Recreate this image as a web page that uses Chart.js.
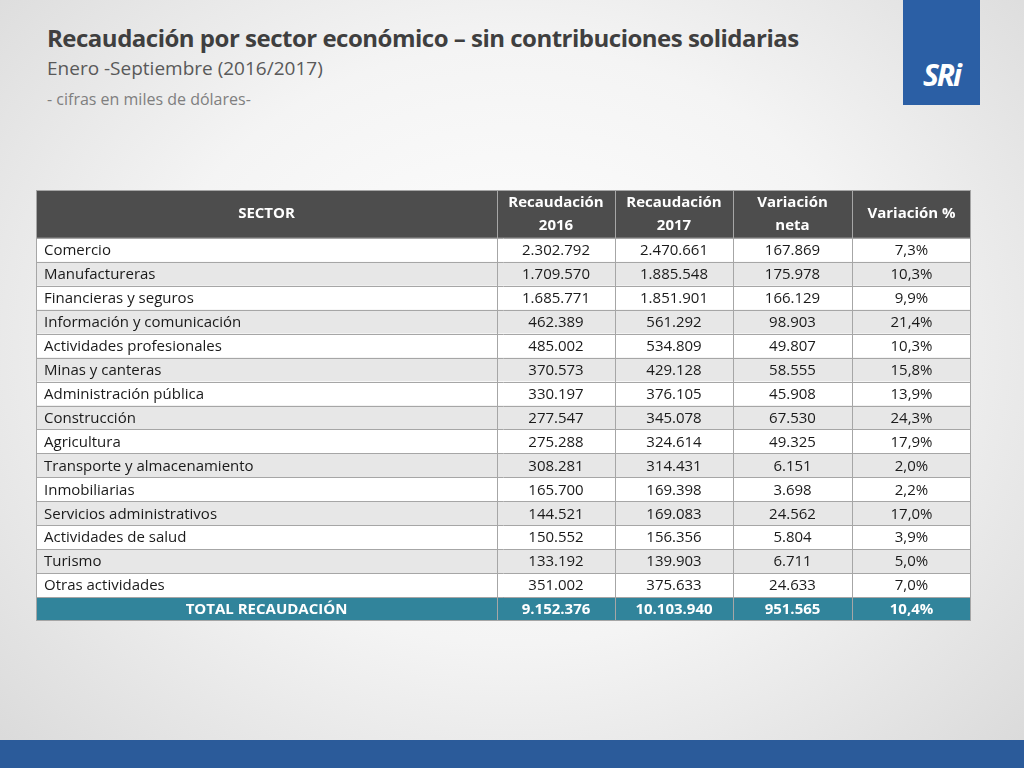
<!DOCTYPE html>
<html><head><meta charset="utf-8">
<script src="https://cdn.jsdelivr.net/npm/chart.js@4"></script>
<style>
body{margin:0;width:1024px;height:768px;overflow:hidden;font-family:"Open Sans",sans-serif;
background:radial-gradient(ellipse at 50% 45%,#ffffff 0%,#f4f4f4 50%,#d9d9d9 100%);position:relative}
#t1{position:absolute;left:47px;top:21px;font-size:24px;font-weight:bold;color:#3f3f3f;letter-spacing:-0.5px}
#t2{position:absolute;left:47px;top:55px;font-size:19px;color:#595959}
#t3{position:absolute;left:47px;top:88px;font-size:16px;color:#7f7f7f}
#logo{position:absolute;left:903px;top:0;width:77px;height:105px;background:#2b5fa5;color:#fff;
font:italic bold 30px "Open Sans",sans-serif;text-align:center;line-height:150px;letter-spacing:-2px}
#bar{position:absolute;left:0;top:740px;width:1024px;height:28px;background:#2b5b9a}
#wrap{position:absolute;left:36px;top:190px;width:935px;height:431px}
</style></head><body>
<div id="t1">Recaudación por sector económico – sin contribuciones solidarias</div>
<div id="t2">Enero -Septiembre (2016/2017)</div>
<div id="t3">- cifras en miles de dólares-</div>
<div id="logo">SRi</div>
<div id="bar"></div>
<div id="wrap"><canvas id="c"></canvas></div>
<script>
var headers = [["SECTOR"], ["Recaudación", "2016"], ["Recaudación", "2017"], ["Variación", "neta"], ["Variación %"]];
var sectors = ["Comercio", "Manufactureras", "Financieras y seguros", "Información y comunicación",
  "Actividades profesionales", "Minas y canteras", "Administración pública", "Construcción", "Agricultura",
  "Transporte y almacenamiento", "Inmobiliarias", "Servicios administrativos", "Actividades de salud",
  "Turismo", "Otras actividades"];
var rec2016 = ["2.302.792", "1.709.570", "1.685.771", "462.389", "485.002", "370.573", "330.197", "277.547",
  "275.288", "308.281", "165.700", "144.521", "150.552", "133.192", "351.002"];
var rec2017 = ["2.470.661", "1.885.548", "1.851.901", "561.292", "534.809", "429.128", "376.105", "345.078",
  "324.614", "314.431", "169.398", "169.083", "156.356", "139.903", "375.633"];
var varNeta = ["167.869", "175.978", "166.129", "98.903", "49.807", "58.555", "45.908", "67.530", "49.325",
  "6.151", "3.698", "24.562", "5.804", "6.711", "24.633"];
var varPct = ["7,3%", "10,3%", "9,9%", "21,4%", "10,3%", "15,8%", "13,9%", "24,3%", "17,9%", "2,0%",
  "2,2%", "17,0%", "3,9%", "5,0%", "7,0%"];
var total = ["TOTAL RECAUDACIÓN", "9.152.376", "10.103.940", "951.565", "10,4%"];

// y labels: header takes two bands
var rowLabels = ["h1", "h2"].concat(sectors).concat(["total"]);
var colWidths = [461, 118, 118, 119, 119];

var tablePlugin = {
  id: "table",
  afterDraw: function (chart) {
    var c = chart.ctx, y = chart.scales.y, a = chart.chartArea;
    var band = (a.bottom - a.top) / rowLabels.length;
    var sum = colWidths.reduce(function (s, v) { return s + v; }, 0);
    var xs = [a.left];
    colWidths.forEach(function (w) { xs.push(xs[xs.length - 1] + w / sum * (a.right - a.left)); });
    function top(lbl) { return y.getPixelForValue(rowLabels.indexOf(lbl)) - band / 2; }
    c.save();
    // header
    var ht = top("h1");
    c.fillStyle = "#4d4d4d"; c.fillRect(a.left, ht, a.right - a.left, band * 2);
    c.fillStyle = "#fff"; c.font = "bold 15px 'Open Sans'"; c.textAlign = "center"; c.textBaseline = "middle";
    headers.forEach(function (h, i) {
      var cx = (xs[i] + xs[i + 1]) / 2;
      if (h.length == 1) c.fillText(h[0], cx, ht + band);
      else { c.fillText(h[0], cx, ht + band * 0.55); c.fillText(h[1], cx, ht + band * 1.5); }
    });
    // data rows
    sectors.forEach(function (s, r) {
      var t = top(s);
      c.fillStyle = r % 2 ? "#e7e7e7" : "#ffffff"; c.fillRect(a.left, t, a.right - a.left, band);
      var vals = [s, rec2016[r], rec2017[r], varNeta[r], varPct[r]];
      c.fillStyle = "#1a1a1a"; c.font = "15px 'Open Sans'";
      vals.forEach(function (v, i) {
        if (i == 0) { c.textAlign = "left"; c.fillText(v, xs[0] + 8, t + band / 2 + 1); }
        else { c.textAlign = "center"; c.fillText(v, (xs[i] + xs[i + 1]) / 2, t + band / 2 + 1); }
      });
    });
    // total
    var tt = top("total");
    c.fillStyle = "#31849b"; c.fillRect(a.left, tt, a.right - a.left, band);
    c.fillStyle = "#fff"; c.font = "bold 15px 'Open Sans'"; c.textAlign = "center";
    total.forEach(function (v, i) { c.fillText(v, (xs[i] + xs[i + 1]) / 2, tt + band / 2 + 1); });
    // grid
    c.strokeStyle = "#a6a6a6"; c.lineWidth = 1;
    for (var r = 2; r <= rowLabels.length; r++) {
      var yy = Math.round(ht + r * band) + 0.5;
      c.beginPath(); c.moveTo(a.left, yy); c.lineTo(a.right, yy); c.stroke();
    }
    xs.forEach(function (x) {
      x = Math.round(x) + 0.5;
      c.beginPath(); c.moveTo(x, ht); c.lineTo(x, a.bottom); c.stroke();
    });
    c.strokeRect(a.left + 0.5, ht + 0.5, a.right - a.left - 1, a.bottom - ht - 1);
    c.restore();
  }
};

new Chart(document.getElementById("c"), {
  type: "bar",
  data: { labels: rowLabels, datasets: [{ data: [] }] },
  options: {
    indexAxis: "y", responsive: true, maintainAspectRatio: false, animation: false,
    layout: { padding: 0 },
    plugins: { legend: { display: false }, tooltip: { enabled: false } },
    scales: {
      y: { type: "category", display: false, offset: true },
      x: { type: "linear", display: false, min: 0, max: 1 }
    }
  },
  plugins: [tablePlugin]
});
</script>
</body></html>
